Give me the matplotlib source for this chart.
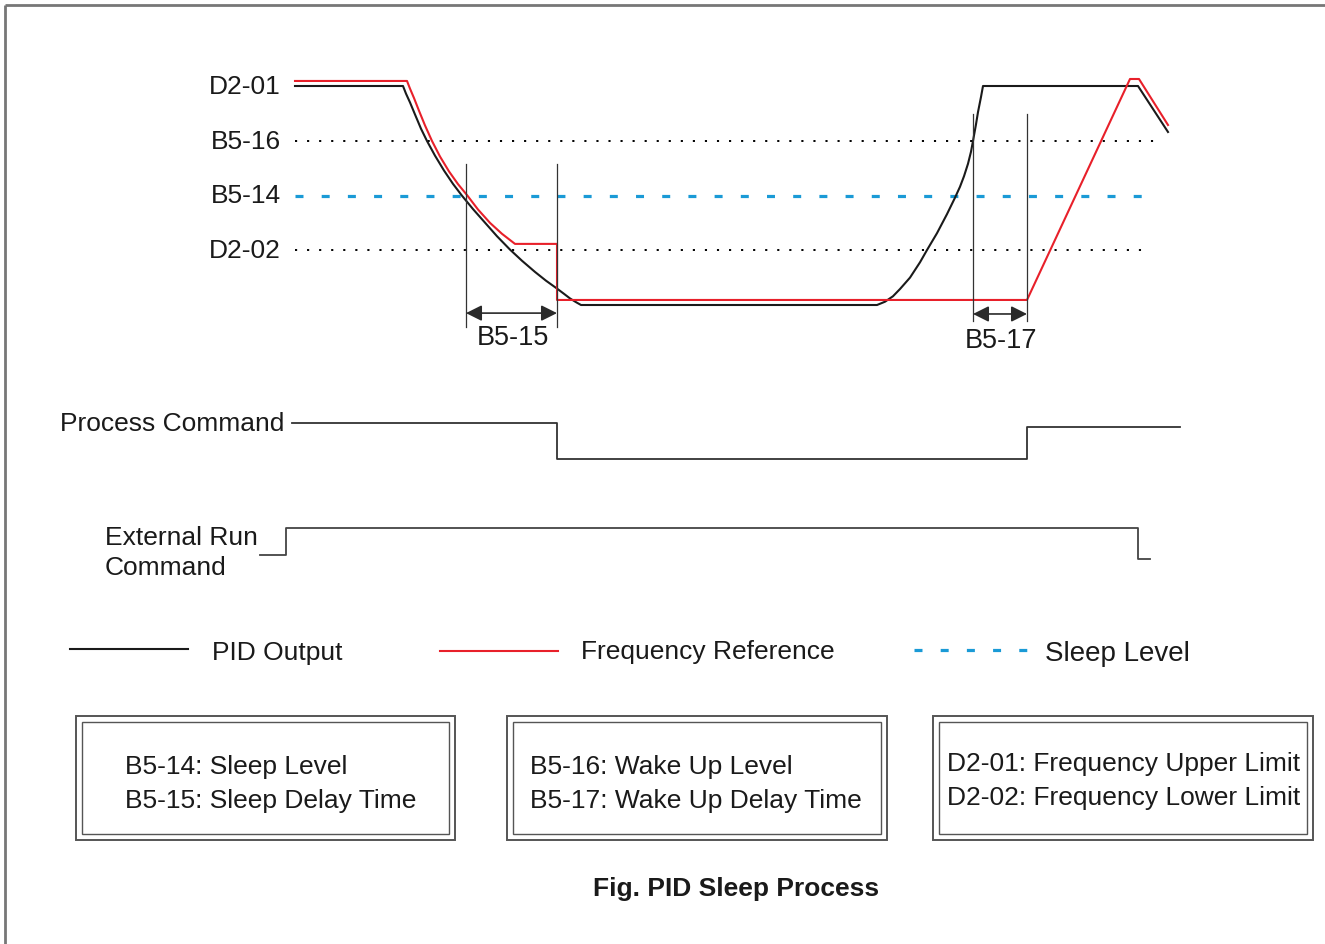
import matplotlib
matplotlib.use('Agg')
import matplotlib.pyplot as plt
from matplotlib.patches import Rectangle

plt.rcParams['font.family'] = ['Liberation Sans', 'DejaVu Sans']

W, H = 1325, 945
FS = 19

# reference levels, in % of the upper limit
level_names = ['D2-01', 'B5-16', 'B5-14', 'D2-02']
level_values = [100, 75, 50, 25]
level_ends = [1155, 1155, 1150, 1148]

# PID output (time, value)
pid_t = [295, 403, 406, 410, 415, 421, 427, 435, 444, 453, 462, 473, 485, 497, 510,
         522, 535, 546, 557, 564, 570, 576, 581,
         877, 885, 893, 900, 910, 920, 927, 937, 947, 955, 960, 964, 968, 971, 973,
         976, 978, 981, 983, 1138, 1168]
pid_v = [100, 100, 96.5, 92.5, 87.0, 80.5, 74.9, 68.2, 61.4, 55.3, 49.9, 43.8, 37.6, 31.4, 25.3,
         20.2, 15.1, 11.1, 7.5, 5.1, 3.0, 1.3, 0,
         0, 1.5, 4.0, 7.3, 12.5, 19.5, 25.1, 32.8, 41.5, 49.0, 54.0, 58.8, 64.5, 70.0, 74.9,
         82.5, 88.1, 95.0, 100, 100, 79.0]

# frequency reference
freq_t = [295, 407, 410, 414, 419, 425, 432, 440, 449, 458, 467, 478, 490, 502, 515,
          557, 557, 1027, 1130, 1139, 1168]
freq_v = [102.3, 102.3, 98.8, 94.5, 88.7, 82.0, 74.9, 67.8, 61.0, 55.2, 50.2, 43.6, 37.5, 32.5, 27.9,
          27.9, 2.3, 2.3, 103.2, 103.2, 82.2]

# delay markers: (start, end, line top, line bottom, arrow level, label, label level)
delays = [(466, 557, 64.4, -10.0, -3.7, 'B5-15', -14.6),
          (973, 1027, 87.2, -7.3, -4.1, 'B5-17', -16.0)]

# digital commands (step, post)
proc_t = [292, 557, 1027, 1180]
proc_v = [1, 0, 0.89, 0.89]
run_t = [260, 286, 1138, 1150]
run_v = [0, 1, -0.15, -0.15]

box_lines = [['B5-14: Sleep Level', 'B5-15: Sleep Delay Time'],
             ['B5-16: Wake Up Level', 'B5-17: Wake Up Delay Time'],
             ['D2-01: Frequency Upper Limit', 'D2-02: Frequency Lower Limit']]

RED = '#e8202a'
BLUE = '#1a9ad6'
BLK = '#1a1a1a'

fig = plt.figure(figsize=(W / 100, H / 100), dpi=100)
ax = fig.add_axes([0, 0, 1, 1])
ax.set_xlim(0, W)
ax.set_ylim(H, 0)
ax.axis('off')


def band_axes(px_hi, px_lo, v_hi, v_lo):
    a = fig.add_axes([0, 1 - px_lo / H, 1, (px_lo - px_hi) / H])
    a.set_xlim(0, W)
    a.set_ylim(v_lo, v_hi)
    a.axis('off')
    return a


# outer frame (left and top only visible)
ax.plot([5, 5], [H, 6], color='#777777', lw=2, solid_capstyle='butt')
ax.plot([5, W], [6, 6], color='#777777', lw=2, solid_capstyle='butt')

# --- signal chart ---
sig = band_axes(87, 306, 100, 0)
for name, v, xe in zip(level_names, level_values, level_ends):
    sig.text(281, v, name, ha='right', va='center', fontsize=FS, color=BLK)
    if name == 'B5-14':
        sig.plot([295, xe], [v, v], color=BLUE, lw=2.3, dashes=(2.5, 5.7), clip_on=False)
    elif name != 'D2-01':
        sig.plot([295, xe], [v, v], color='black', lw=1.4, dashes=(1.1, 5.1), clip_on=False)

sig.plot(pid_t, pid_v, color=BLK, lw=1.5, clip_on=False)
sig.plot(freq_t, freq_v, color=RED, lw=1.5, clip_on=False)

for x0, x1, top, bot, ya, lab, yl in delays:
    for x in (x0, x1):
        sig.plot([x, x], [top, bot], color='#333333', lw=0.9, clip_on=False)
    sig.annotate('', xy=(x1, ya), xytext=(x0, ya), annotation_clip=False,
                 arrowprops=dict(arrowstyle='<|-|>', color='#2a2a2a', lw=1.2,
                                 mutation_scale=24, shrinkA=0, shrinkB=0))
    sig.text((x0 + x1) / 2 + 1, yl, lab, ha='center', va='center', fontsize=FS + 0.5, color=BLK)

# --- commands ---
pc = band_axes(424, 460, 1, 0)
pc.step(proc_t, proc_v, where='post', color='#333333', lw=1.3, clip_on=False)
ax.text(60, 424, 'Process Command', ha='left', va='center', fontsize=FS, color=BLK)

rc = band_axes(529, 556, 1, 0)
rc.step(run_t, run_v, where='post', color='#444444', lw=1.3, clip_on=False)
ax.text(105, 538, 'External Run', ha='left', va='center', fontsize=FS, color=BLK)
ax.text(105, 568, 'Command', ha='left', va='center', fontsize=FS, color=BLK)

# --- legend ---
ax.plot([70, 188], [650, 650], color=BLK, lw=1.5)
ax.text(212, 653, 'PID Output', ha='left', va='center', fontsize=FS, color=BLK)
ax.plot([440, 558], [652, 652], color=RED, lw=1.5)
ax.text(581, 652, 'Frequency Reference', ha='left', va='center', fontsize=FS, color=BLK)
ax.plot([914, 1028], [651, 651], color=BLUE, lw=2.3, dashes=(2.5, 5.7))
ax.text(1045, 654, 'Sleep Level', ha='left', va='center', fontsize=FS + 1, color=BLK)

# --- parameter boxes ---
box_x = [(76, 455), (507, 887), (933, 1313)]
text_x = [125, 530, 947]
text_y = [(767, 801), (767, 801), (764, 798)]
for (bx0, bx1), tx, ty, lines in zip(box_x, text_x, text_y, box_lines):
    ax.add_patch(Rectangle((bx0, 717), bx1 - bx0, 124, fill=False, ec='#555555', lw=1.4))
    ax.add_patch(Rectangle((bx0 + 6, 723), bx1 - bx0 - 12, 112, fill=False, ec='#555555', lw=1.0))
    for y, s in zip(ty, lines):
        ax.text(tx, y, s, ha='left', va='center', fontsize=FS, color=BLK)

ax.text(736, 889, 'Fig. PID Sleep Process', ha='center', va='center',
        fontsize=FS, fontweight='bold', color=BLK)

fig.savefig('out.png', dpi=100)
